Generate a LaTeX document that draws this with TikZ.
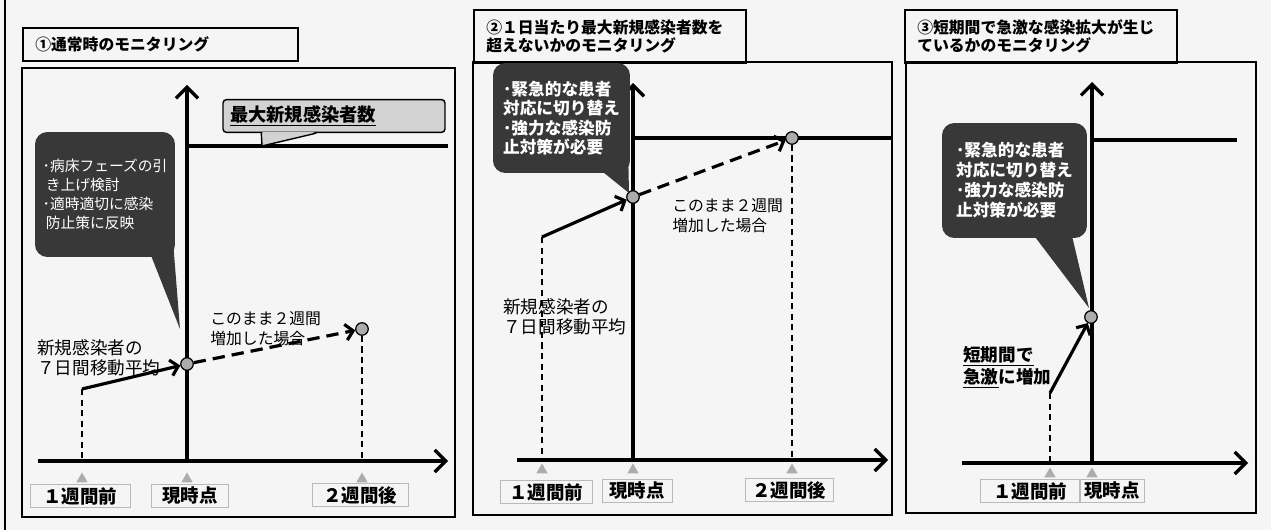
\documentclass[tikz,border=0pt]{standalone}
\usepackage{fontspec}
\setmainfont{Noto Sans CJK JP}
\usetikzlibrary{calc,arrows.meta,shapes.geometric}

\tikzset{
  panelframe/.style={draw=black, line width=0.9pt},
  axisline/.style={line width=1.9pt, -{Straight Barb[length=2.2mm,width=4.4mm]}},
  maxline/.style={line width=2pt},
  rise/.style={line width=1.8pt, -{Straight Barb[length=1.5mm,width=3.2mm]}},
  trend/.style={rise, dash pattern=on 7pt off 4pt},
  dropline/.style={line width=1pt, dash pattern=on 3.5pt off 2.5pt},
  datadot/.style={circle, draw=black, line width=0.7pt, fill=gray!65, minimum size=0.25cm, inner sep=0pt},
  tickmark/.style={regular polygon, regular polygon sides=3, fill=gray!65, minimum size=0.26cm, inner sep=0pt},
  daylab/.style={draw=gray!55, line width=0.5pt, inner sep=0pt, minimum height=0.46cm, font=\fontsize{10.5}{12}\selectfont\bfseries},
  titlebox/.style={draw=black, line width=0.9pt, anchor=north west, align=left, inner xsep=0.25cm, inner ysep=0pt, font=\fontsize{9}{10.3}\selectfont\bfseries},
  speech/.style={fill=black!78, rounded corners=7pt, text=white, align=left, inner sep=0pt},
  calltail/.style={fill=black!78},
  note/.style={anchor=north west, align=left, inner sep=0pt, font=\fontsize{10}{11.6}\selectfont},
  maxtag/.style={draw=black, line width=0.8pt, fill=gray!35, rounded corners=2pt, inner xsep=0.14cm, align=left, font=\fontsize{10.4}{12}\selectfont\bfseries}
}

\begin{document}
\begin{tikzpicture}[x=0.02cm, y=-0.02cm]
  \useasboundingbox (0,0) rectangle (1271,530);
  \fill[gray!8] (0,0) rectangle (1271,530);
  \draw[panelframe] (5,0) -- (5,530);

  %%%%% PANEL 1 %%%%%
  \draw[panelframe] (22,68) rectangle (455,517);
  \node[titlebox, text width=5.0cm, minimum height=0.66cm] (title1) at (22,27) {①通常時のモニタリング};

  \coordinate (o1) at (187,461);
  \coordinate (xs1) at (38,461);
  \coordinate (xe1) at (448,461);
  \coordinate (yt1) at (187,85);
  \draw[axisline] (xs1) -- (xe1);
  \draw[axisline] (o1) -- (yt1);
  \coordinate (m1) at (187,146);
  \coordinate (me1) at (448,146);
  \draw[maxline] (m1) -- (me1);

  \node[maxtag, minimum width=4.44cm, minimum height=0.56cm, text width=4.16cm] (tag1) at (334,116) {\underline{最大新規感染者数}};
  \coordinate (mp1) at (262,146);
  \fill[gray!35] ($(tag1.south west)+(40,-1)$) -- (mp1) -- ($(tag1.south west)+(93,-1)$) -- cycle;
  \draw[line width=0.8pt] ($(tag1.south west)+(39,0)$) -- (mp1) -- ($(tag1.south west)+(94,0)$);

  \node[note] (avg1) at (37,339) {新規感染者の\\７日間移動平均};
  \node[note, font=\fontsize{9}{11.4}\selectfont] (proj1) at (210,311) {このまま２週間\\増加した場合};

  \coordinate (prev1) at (82,389);
  \node[datadot] (now1) at (187,364) {};
  \node[datadot] (next1) at (362,329) {};
  \draw[rise] (prev1) -- (now1);
  \draw[trend] (now1) -- (next1);
  \draw[dropline] (prev1) -- (prev1 |- o1);
  \draw[dropline] (next1.south) -- (next1 |- o1);

  \node[speech, minimum width=2.8cm, minimum height=2.5cm, font=\fontsize{8.4}{10.8}\selectfont] (say1) at (105,194.5) {･病床フェーズの引\\\ き上げ検討\\･適時適切に感染\\\ 防止策に反映};
  \coordinate (tip1) at (180,329);
  \fill[calltail] ($(say1.south east)+(-24,-1)$) -- (tip1) -- ($(say1.south east)+(-2,-12)$) -- cycle;

  \node[tickmark] (k1a) at (82,479) {};
  \node[tickmark] (k1b) at (187,479) {};
  \node[tickmark] (k1c) at (362,479) {};
  \node[daylab, minimum width=2.0cm] (l1a) at (80,496) {１週間前};
  \node[daylab, minimum width=1.54cm] (l1b) at (190,496) {現時点};
  \node[daylab, minimum width=1.92cm] (l1c) at (360,495) {２週間後};

  %%%%% PANEL 2 %%%%%
  \draw[panelframe] (473,62) rectangle (892,515);
  \node[titlebox, text width=4.94cm, minimum height=1.06cm] (title2) at (473,9) {②１日当たり最大新規感染者数を\\超えないかのモニタリング};

  \coordinate (o2) at (633,460);
  \coordinate (xs2) at (517,460);
  \coordinate (xe2) at (888,460);
  \coordinate (yt2) at (633,83);
  \draw[axisline] (xs2) -- (xe2);
  \draw[axisline] (o2) -- (yt2);
  \coordinate (m2) at (633,138);
  \coordinate (me2) at (892,138);
  \draw[maxline] (m2) -- (me2);

  \node[note] (avg2) at (503,298) {新規感染者の\\７日間移動平均};
  \node[note, font=\fontsize{9}{11.4}\selectfont] (proj2) at (672,198) {このまま２週間\\増加した場合};

  \coordinate (prev2) at (542,237);
  \node[datadot] (now2) at (633,197) {};
  \node[datadot] (next2) at (792,138) {};
  \draw[rise] (prev2) -- (now2);
  \draw[trend] (now2) -- (next2);
  \draw[dropline] (prev2) -- (prev2 |- o2);
  \draw[dropline] (next2.south) -- (next2 |- o2);

  \node[speech, minimum width=2.74cm, minimum height=2.2cm, font=\fontsize{9.5}{11}\selectfont\bfseries] (say2) at (561.5,118) {･緊急的な患者\\対応に切り替え\\･強力な感染防\\止対策が必要};
  \coordinate (tip2) at (629,193);
  \fill[calltail] ($(say2.south east)+(-27,-1)$) -- (tip2) -- ($(say2.south east)+(-2,-12)$) -- cycle;

  \node[tickmark] (k2a) at (542,470) {};
  \node[tickmark] (k2b) at (633,470) {};
  \node[tickmark] (k2c) at (792,470) {};
  \node[daylab, minimum width=1.84cm] (l2a) at (546,492) {１週間前};
  \node[daylab, minimum width=1.4cm] (l2b) at (637,491) {現時点};
  \node[daylab, minimum width=1.76cm] (l2c) at (789,490) {２週間後};

  %%%%% PANEL 3 %%%%%
  \draw[panelframe] (906,62) rectangle (1256,513);
  \node[titlebox, text width=4.94cm, minimum height=1.06cm] (title3) at (904,9) {③短期間で急激な感染拡大が生じ\\ているかのモニタリング};

  \coordinate (o3) at (1092,463);
  \coordinate (xs3) at (962,463);
  \coordinate (xe3) at (1248,463);
  \coordinate (yt3) at (1092,82);
  \draw[axisline] (xs3) -- (xe3);
  \draw[axisline] (o3) -- (yt3);
  \coordinate (m3) at (1092,140);
  \coordinate (me3) at (1237,140);
  \draw[maxline] (m3) -- (me3);

  \node[note, font=\fontsize{10}{12.4}\selectfont\bfseries] (fast3) at (963,346) {\underline{短期間で}\\\underline{急激}に増加};

  \coordinate (prev3) at (1050,393);
  \node[datadot] (now3) at (1091,317) {};
  \draw[rise] (prev3) -- (now3);
  \draw[dropline] (prev3) -- (prev3 |- o3);

  \node[speech, minimum width=2.9cm, minimum height=2.3cm, font=\fontsize{9.5}{11.4}\selectfont\bfseries] (say3) at (1014.5,180.5) {･緊急的な患者\\対応に切り替え\\･強力な感染防\\止対策が必要};
  \coordinate (tip3) at (1089,308);
  \fill[calltail] ($(say3.south east)+(-52,-1)$) -- (tip3) -- ($(say3.south east)+(-15,-1)$) -- cycle;

  \node[tickmark] (k3a) at (1050,474) {};
  \node[tickmark] (k3b) at (1092,474) {};
  \node[daylab, minimum width=2.0cm] (l3a) at (1030,491) {１週間前};
  \node[daylab, minimum width=1.3cm] (l3b) at (1112,491) {現時点};
\end{tikzpicture}
\end{document}
